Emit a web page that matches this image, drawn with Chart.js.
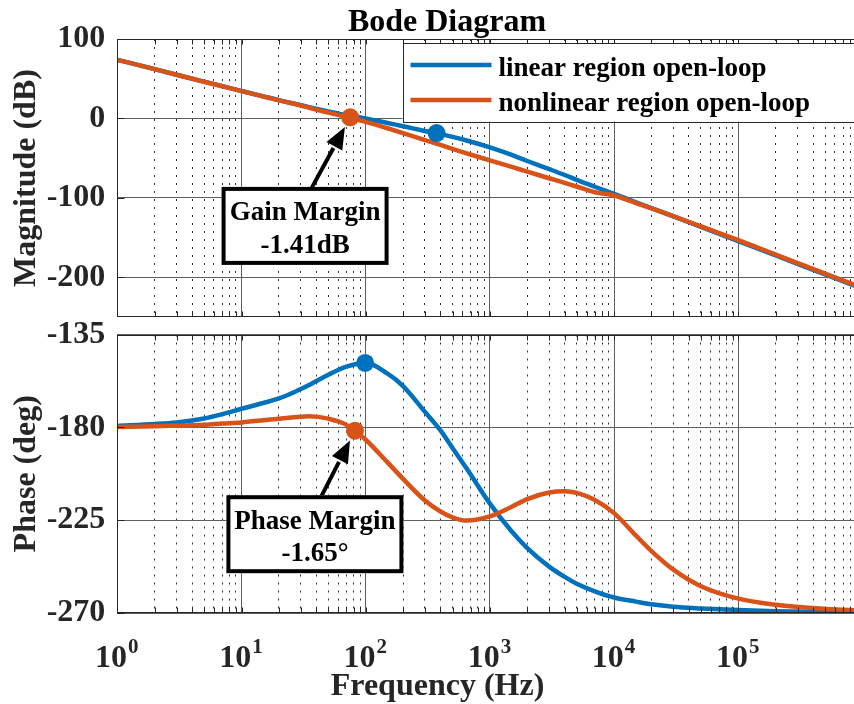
<!DOCTYPE html>
<html><head><meta charset="utf-8">
<script src="https://cdn.jsdelivr.net/npm/chart.js@4/dist/chart.umd.min.js"></script>
<style>
html,body{margin:0;padding:0;background:#fff;overflow:hidden;width:854px;height:704px;}
#wrap{position:relative;width:854px;height:704px;overflow:hidden;background:#fff;}
#mag{position:absolute;left:0;top:0;}
#phase{position:absolute;left:0;top:296px;}
</style></head><body>
<div id="wrap"><canvas id="mag" width="900" height="326"></canvas><canvas id="phase" width="900" height="408"></canvas></div>
<script>
// ---------------- data ----------------
const FREQ_HZ = [1, 2, 3, 5, 7, 10, 15, 20, 28, 35, 50, 70, 100, 150, 200, 300, 400, 500, 650, 1000, 1500, 2000, 3000, 4000, 5000, 7000, 10000, 15000, 20000, 30000, 50000, 100000, 200000, 500000, 1000000];
const MAG_LINEAR_DB = [73.8, 62.0, 55.0, 46.3, 40.6, 34.6, 27.8, 23.0, 17.9, 14.3, 8.8, 4.0, 0.0, -5.8, -9.8, -15.8, -19.8, -23.2, -27.8, -36.5, -46.0, -53.6, -63.8, -71.2, -77.3, -86.0, -95.0, -105.6, -112.8, -123.3, -136.6, -154.6, -172.6, -196.4, -214.4];
const MAG_NONLINEAR_DB = [73.8, 62.0, 55.0, 46.2, 40.5, 34.4, 27.6, 22.7, 17.3, 13.3, 7.3, 1.8, -4.3, -12.4, -18.4, -27.2, -33.4, -38.3, -44.0, -52.8, -61.1, -67.0, -75.3, -81.2, -85.7, -92.9, -97.0, -106.5, -113.2, -123.0, -136.0, -153.2, -171.4, -195.4, -213.5];
const PHASE_LINEAR_DEG = [-179.3, -178.4, -177.6, -175.7, -173.6, -171.0, -168.2, -166.0, -162.3, -159.5, -154.5, -150.6, -148.7, -154.0, -160.0, -172.5, -181.5, -190.0, -200.0, -217.0, -230.5, -238.5, -247.5, -252.5, -255.8, -259.5, -262.5, -264.5, -265.8, -267.0, -267.8, -268.6, -269.1, -269.5, -269.7];
const PHASE_NONLINEAR_DEG = [-179.8, -179.5, -179.2, -178.8, -178.2, -177.6, -176.6, -175.8, -175.0, -174.6, -175.8, -178.8, -186.0, -197.0, -205.0, -215.5, -220.8, -223.6, -225.2, -223.2, -218.5, -214.8, -211.6, -211.0, -211.8, -215.2, -221.6, -232.5, -240.0, -249.0, -257.0, -263.0, -266.0, -268.0, -268.8];

// margin markers: [linear, nonlinear]
const GAIN_MARKER_FREQ = [372, 75];
const GAIN_MARKER_DB = [-18.5, 1.41];
const PHASE_MARKER_FREQ = [99, 82];
const PHASE_MARKER_DEG = [-148.8, -181.65];

const SERIES_LABELS = ['linear region open-loop', 'nonlinear region open-loop'];
const MAG_TICKS = [-200, -100, 0, 100];
const PHASE_TICKS = [-270, -225, -180, -135];
const X_TICK_BASE = '10';
const X_TICK_EXPONENTS = ['0', '1', '2', '3', '4', '5'];
const TITLE_TEXT = 'Bode Diagram';
const X_TITLE = 'Frequency (Hz)';
const MAG_TITLE = 'Magnitude (dB)';
const PHASE_TITLE = 'Phase (deg)';
const GM_TEXT = ['Gain Margin', '-1.41dB'];
const PM_TEXT = ['Phase Margin', '-1.65\u00B0'];
const GM_BOX_CENTER = [32.5, -135.3];   // data units (Hz, dB)
const PM_BOX_CENTER = [39, -231.8];     // data units (Hz, deg)

const X_MIN = 1, X_MAX = 1e6;
const MAG_RANGE = [-250, 100];
const PHASE_RANGE = [-270, -135];

// ---------------- styles ----------------
const FONT = '"Liberation Serif", "Times New Roman", Times, serif';
const TXT = '#262626';
const BLUE = '#0072BD', ORANGE = '#D95319';
const GRID_MAJOR = '#5e5e5e';
const GRID_MINOR = '#2e2e2e';
const AXIS_W = 117.3;

function isDecade(v){ const l = Math.log10(v); return Math.abs(l - Math.round(l)) < 1e-6; }
const X_GRID_VALUES = [];
for (let e = 0; e < 6; e++) for (let m = 1; m < 10; m++) X_GRID_VALUES.push(m * Math.pow(10, e));
X_GRID_VALUES.push(X_MAX);

function pts(xs, ys){ return xs.map((x, i) => ({x: x, y: ys[i]})); }

function xAxis(height){
  return {
    type: 'logarithmic', min: X_MIN, max: X_MAX,
    afterBuildTicks: s => { s.ticks = X_GRID_VALUES.map(v => ({value: v, major: isDecade(v)})); },
    afterFit: s => { s.height = height; s.paddingLeft = 0; s.paddingRight = 0; s.paddingTop = 0; s.paddingBottom = 0; },
    ticks: {display: false, autoSkip: false},
    grid: {drawTicks: false, lineWidth: 1,
      color: c => (c.tick && !isDecade(c.tick.value)) ? GRID_MINOR : GRID_MAJOR},
    border: {display: false, dash: c => (c.tick && !isDecade(c.tick.value)) ? [2, 6] : []}
  };
}
function yAxis(range, ticks, title){
  return {
    type: 'linear', min: range[0], max: range[1],
    afterBuildTicks: s => { s.ticks = ticks.map(v => ({value: v})); },
    afterFit: s => { s.width = AXIS_W; s.paddingTop = 0; s.paddingBottom = 0; s.paddingLeft = 0; s.paddingRight = 0; },
    ticks: {color: TXT, font: {family: FONT, size: 32, weight: 'bold'}, padding: 12, autoSkip: false},
    grid: {drawTicks: false, color: GRID_MAJOR, lineWidth: 1},
    border: {display: false},
    title: {display: true, text: title, color: TXT, font: {family: FONT, size: 32, weight: 'bold'}, padding: {top: 8, bottom: 0}}
  };
}
function lineDs(label, data, color, order){
  return {label, data, borderColor: color, backgroundColor: color, borderWidth: 4.5,
    pointRadius: 0, pointHoverRadius: 0, fill: false, cubicInterpolationMode: 'monotone', order};
}
function markerDs(f, v, color){
  return {label: '', data: [{x: f, y: v}], showLine: false, pointRadius: 9, pointHoverRadius: 9,
    pointBorderWidth: 0, backgroundColor: color, borderColor: color, order: 0};
}

function drawFrame(chart){
  const {ctx, chartArea: a} = chart;
  const xs = chart.scales.x, ys = chart.scales.y;
  ctx.save();
  ctx.strokeStyle = TXT; ctx.lineWidth = 1;
  const L = Math.round(a.left) + 0.5, T = Math.round(a.top) + 0.5, B = Math.round(a.bottom) - 0.5, R = Math.round(a.right) - 0.5;
  ctx.beginPath();
  ctx.moveTo(R, T); ctx.lineTo(L, T); ctx.lineTo(L, B); ctx.lineTo(R, B); ctx.lineTo(R, T);
  ctx.stroke();
  ctx.beginPath();
  X_GRID_VALUES.forEach(v => {
    const px = Math.round(xs.getPixelForValue(v)) + 0.5;
    const len = 5;
    ctx.moveTo(px, T); ctx.lineTo(px, T + len);
    ctx.moveTo(px, B); ctx.lineTo(px, B - len);
  });
  ys.ticks.forEach(t => {
    const py = Math.round(ys.getPixelForValue(t.value)) + 0.5;
    ctx.moveTo(L, py); ctx.lineTo(L + 7, py);
  });
  ctx.stroke();
  ctx.restore();
}

function drawAnnotation(chart, center, lines, mf, mv, w, h){
  const {ctx} = chart;
  const xs = chart.scales.x, ys = chart.scales.y;
  const cx = xs.getPixelForValue(center[0]), cy = ys.getPixelForValue(center[1]);
  const left = cx - w / 2, top = cy - h / 2;
  const sx = cx + 5, sy = top + 4;
  const mx = xs.getPixelForValue(mf), my = ys.getPixelForValue(mv);
  let ux = sx - mx, uy = sy - my; const d = Math.hypot(ux, uy); ux /= d; uy /= d;
  const tipX = mx + ux * 11, tipY = my + uy * 11;
  const baseX = tipX + ux * 22, baseY = tipY + uy * 22;
  const px = -uy, py = ux;
  ctx.save();
  ctx.strokeStyle = '#000'; ctx.fillStyle = '#000';
  ctx.lineWidth = 4;
  ctx.beginPath(); ctx.moveTo(sx, sy); ctx.lineTo(baseX + ux * 2, baseY + uy * 2); ctx.stroke();
  ctx.beginPath(); ctx.moveTo(tipX, tipY); ctx.lineTo(baseX + px * 9, baseY + py * 9); ctx.lineTo(baseX - px * 9, baseY - py * 9); ctx.closePath(); ctx.fill();
  ctx.fillStyle = '#fff';
  ctx.fillRect(left, top, w, h);
  ctx.strokeRect(left + 2, top + 2, w - 4, h - 4);
  ctx.fillStyle = '#000';
  ctx.font = 'bold 27px ' + FONT;
  ctx.textAlign = 'center'; ctx.textBaseline = 'alphabetic';
  ctx.fillText(lines[0], cx, top + 33.5);
  ctx.fillText(lines[1], cx, top + 66);
  ctx.restore();
}

const magPlugin = {
  id: 'magExtras',
  afterDraw(chart){
    const {ctx, chartArea: a} = chart;
    drawFrame(chart);
    // title
    ctx.save();
    ctx.fillStyle = '#000';
    ctx.font = 'bold 32px ' + FONT;
    ctx.textAlign = 'center'; ctx.textBaseline = 'alphabetic';
    ctx.fillText(TITLE_TEXT, 447, a.top - 8);
    // legend
    const lx = 402.5, ly = a.top + 4, lw = 600, lh = 78.5;
    ctx.fillStyle = '#fff';
    ctx.fillRect(lx, ly, lw, lh);
    ctx.strokeStyle = TXT; ctx.lineWidth = 1;
    ctx.strokeRect(Math.round(lx) + 0.5, Math.round(ly) + 0.5, lw, Math.round(lh));
    const rows = [chart.data.datasets[2], chart.data.datasets[3]];
    ctx.font = 'bold 27px ' + FONT;
    ctx.textAlign = 'left';
    rows.forEach((ds, i) => {
      const yLine = ly + 22 + i * 35;
      ctx.strokeStyle = ds.borderColor; ctx.lineWidth = 4.5;
      ctx.beginPath(); ctx.moveTo(lx + 8, yLine); ctx.lineTo(lx + 89, yLine); ctx.stroke();
      ctx.fillStyle = '#000';
      ctx.fillText(ds.label, lx + 96, yLine + 10.5);
    });
    ctx.restore();
    drawAnnotation(chart, GM_BOX_CENTER, GM_TEXT, GAIN_MARKER_FREQ[1], GAIN_MARKER_DB[1], 167, 78);
  }
};

const phasePlugin = {
  id: 'phaseExtras',
  afterDraw(chart){
    const {ctx, chartArea: a} = chart;
    const xs = chart.scales.x;
    drawFrame(chart);
    ctx.save();
    ctx.fillStyle = TXT;
    ctx.textBaseline = 'alphabetic'; ctx.textAlign = 'left';
    X_TICK_EXPONENTS.forEach((ex, e) => {
      const px = xs.getPixelForValue(Math.pow(10, e));
      ctx.font = 'bold 32px ' + FONT;
      const wb = ctx.measureText(X_TICK_BASE).width;
      ctx.font = 'bold 21px ' + FONT;
      const we = ctx.measureText(ex).width;
      const x0 = px - (wb + we) / 2 - 1;
      ctx.font = 'bold 32px ' + FONT;
      ctx.fillText(X_TICK_BASE, x0, a.bottom + 54);
      ctx.font = 'bold 21px ' + FONT;
      ctx.fillText(ex, x0 + wb + 1, a.bottom + 40);
    });
    ctx.font = 'bold 32px ' + FONT;
    ctx.textAlign = 'center';
    ctx.fillText(X_TITLE, 437.5, a.bottom + 82);
    ctx.restore();
    drawAnnotation(chart, PM_BOX_CENTER, PM_TEXT, PHASE_MARKER_FREQ[1], PHASE_MARKER_DEG[1], 177, 78);
  }
};

const common = {
  responsive: false, animation: false, devicePixelRatio: 1,
  plugins: {legend: {display: false}, tooltip: {enabled: false}, title: {display: false}},
  events: []
};

new Chart(document.getElementById('mag'), {
  type: 'line',
  data: {datasets: [
    markerDs(GAIN_MARKER_FREQ[0], GAIN_MARKER_DB[0], BLUE),
    markerDs(GAIN_MARKER_FREQ[1], GAIN_MARKER_DB[1], ORANGE),
    lineDs(SERIES_LABELS[0], pts(FREQ_HZ, MAG_LINEAR_DB), BLUE, 2),
    lineDs(SERIES_LABELS[1], pts(FREQ_HZ, MAG_NONLINEAR_DB), ORANGE, 1)
  ]},
  options: Object.assign({}, common, {
    layout: {padding: {left: 0, top: 39, right: 37.5, bottom: 6.5}},
    scales: {x: xAxis(0), y: yAxis(MAG_RANGE, MAG_TICKS, MAG_TITLE)}
  }),
  plugins: [magPlugin]
});

new Chart(document.getElementById('phase'), {
  type: 'line',
  data: {datasets: [
    markerDs(PHASE_MARKER_FREQ[0], PHASE_MARKER_DEG[0], BLUE),
    markerDs(PHASE_MARKER_FREQ[1], PHASE_MARKER_DEG[1], ORANGE),
    lineDs(SERIES_LABELS[0], pts(FREQ_HZ, PHASE_LINEAR_DEG), BLUE, 2),
    lineDs(SERIES_LABELS[1], pts(FREQ_HZ, PHASE_NONLINEAR_DEG), ORANGE, 1)
  ]},
  options: Object.assign({}, common, {
    layout: {padding: {left: 0, top: 38.5, right: 37.5, bottom: 0}},
    scales: {x: xAxis(91), y: yAxis(PHASE_RANGE, PHASE_TICKS, PHASE_TITLE)}
  }),
  plugins: [phasePlugin]
});
</script>
</body></html>
